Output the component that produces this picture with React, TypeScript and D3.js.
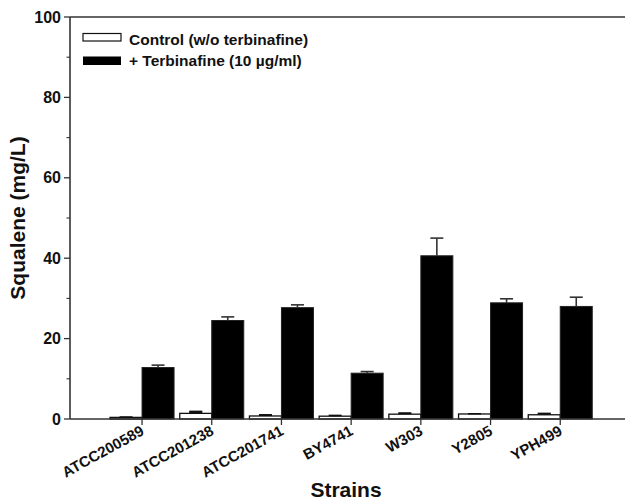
import React from "react";
import * as d3 from "d3";

const strains = ["ATCC200589", "ATCC201238", "ATCC201741", "BY4741", "W303", "Y2805", "YPH499"];
const controlValues = [0.4, 1.4, 0.75, 0.7, 1.2, 1.25, 1.05];
const controlErrors = [0.1, 0.5, 0.3, 0.2, 0.3, 0.05, 0.35];
const terbValues = [12.8, 24.5, 27.7, 11.4, 40.6, 28.9, 28.0];
const terbErrors = [0.6, 0.9, 0.7, 0.4, 4.4, 1.0, 2.3];
const yTicks = [0, 20, 40, 60, 80, 100];
const yMinorTicks = [10, 30, 50, 70, 90];
const legendLabels = ["Control (w/o terbinafine)", "+ Terbinafine (10 \u00b5g/ml)"];

const W = 625;
const H = 501;
const left = 70;
const right = 625;
const top = 17;
const bottom = 419;
const font = "'Liberation Sans', Arial, sans-serif";
const axisColor = "#333";

export default function App() {
  const x = d3.scaleBand<string>().domain(strains).range([107.2, 595.1]).padding(0);
  const y = d3.scaleLinear().domain([0, 100]).range([bottom, top]);
  const bw = 32;
  const cap = 13;
  const cx = (s: string) => (x(s) as number) + x.bandwidth() / 2;

  return (
    <svg width={W} height={H} style={{ position: "absolute", left: 0, top: 0, background: "#fff" }}>
      <rect x={0} y={0} width={W} height={H} fill="#fff" />
      {/* bars */}
      {strains.map((s, i) => {
        const c = cx(s);
        const cv = controlValues[i];
        const tv = terbValues[i];
        return (
          <g key={s}>
            <rect x={c - bw} y={y(cv)} width={bw} height={bottom - y(cv)} fill="#fff" stroke="#111" strokeWidth={1.3} />
            <line x1={c - bw / 2} x2={c - bw / 2} y1={y(cv)} y2={y(cv + controlErrors[i])} stroke="#111" strokeWidth={1.5} />
            <line x1={c - bw / 2 - cap / 2} x2={c - bw / 2 + cap / 2} y1={y(cv + controlErrors[i])} y2={y(cv + controlErrors[i])} stroke="#111" strokeWidth={1.5} />
            {controlErrors[i] > 0.2 && (
              <rect x={c - bw / 2 - cap / 2} y={y(cv + controlErrors[i])} width={cap} height={y(cv) - y(cv + controlErrors[i])} fill="#111" />
            )}
            <rect x={c} y={y(tv)} width={bw} height={bottom - y(tv)} fill="#000" stroke="#222" strokeWidth={1} />
            <line x1={c + bw / 2} x2={c + bw / 2} y1={y(tv)} y2={y(tv + terbErrors[i])} stroke={axisColor} strokeWidth={1.6} />
            <line x1={c + bw / 2 - cap / 2} x2={c + bw / 2 + cap / 2} y1={y(tv + terbErrors[i])} y2={y(tv + terbErrors[i])} stroke={axisColor} strokeWidth={1.6} />
          </g>
        );
      })}
      {/* frame lines */}
      <line x1={left} x2={right} y1={top} y2={top} stroke={axisColor} strokeWidth={1.6} />
      <line x1={left} x2={right} y1={bottom} y2={bottom} stroke={axisColor} strokeWidth={1.6} />
      <line x1={left} x2={left} y1={top} y2={bottom} stroke={axisColor} strokeWidth={1.6} />
      {/* y ticks */}
      {yTicks.map((t) => (
        <g key={t}>
          <line x1={left - 6} x2={left} y1={y(t)} y2={y(t)} stroke={axisColor} strokeWidth={1.3} />
          <text x={left - 9} y={y(t) + 5.5} textAnchor="end" fontFamily={font} fontWeight="bold" fontSize={16} fill="#111">
            {t}
          </text>
        </g>
      ))}
      {yMinorTicks.map((t) => (
        <line key={t} x1={left - 3.5} x2={left} y1={y(t)} y2={y(t)} stroke={axisColor} strokeWidth={1.1} />
      ))}
      {/* x ticks */}
      {strains.map((s) => (
        <g key={s}>
          <line x1={cx(s)} x2={cx(s)} y1={bottom} y2={bottom + 6} stroke={axisColor} strokeWidth={1.3} />
          <text
            transform={`translate(${cx(s) + 3},${bottom + 15}) rotate(-29)`}
            textAnchor="end"
            fontFamily={font}
            fontWeight="bold"
            fontSize={15}
            fill="#111"
          >
            {s}
          </text>
        </g>
      ))}
      {/* axis titles */}
      <text
        transform={`translate(25,218) rotate(-90)`}
        textAnchor="middle"
        fontFamily={font}
        fontWeight="bold"
        fontSize={21}
        fill="#111"
      >
        Squalene (mg/L)
      </text>
      <text x={346} y={497} textAnchor="middle" fontFamily={font} fontWeight="bold" fontSize={21} fill="#111">
        Strains
      </text>
      {/* legend */}
      <rect x={83} y={33.5} width={38} height={7.5} fill="#fff" stroke="#111" strokeWidth={1.2} />
      <rect x={83} y={56.5} width={38} height={8.5} fill="#000" />
      <text x={129} y={45} fontFamily={font} fontWeight="bold" fontSize={15.5} fill="#111">
        {legendLabels[0]}
      </text>
      <text x={129} y={66} fontFamily={font} fontWeight="bold" fontSize={15.5} fill="#111">
        {legendLabels[1]}
      </text>
    </svg>
  );
}
